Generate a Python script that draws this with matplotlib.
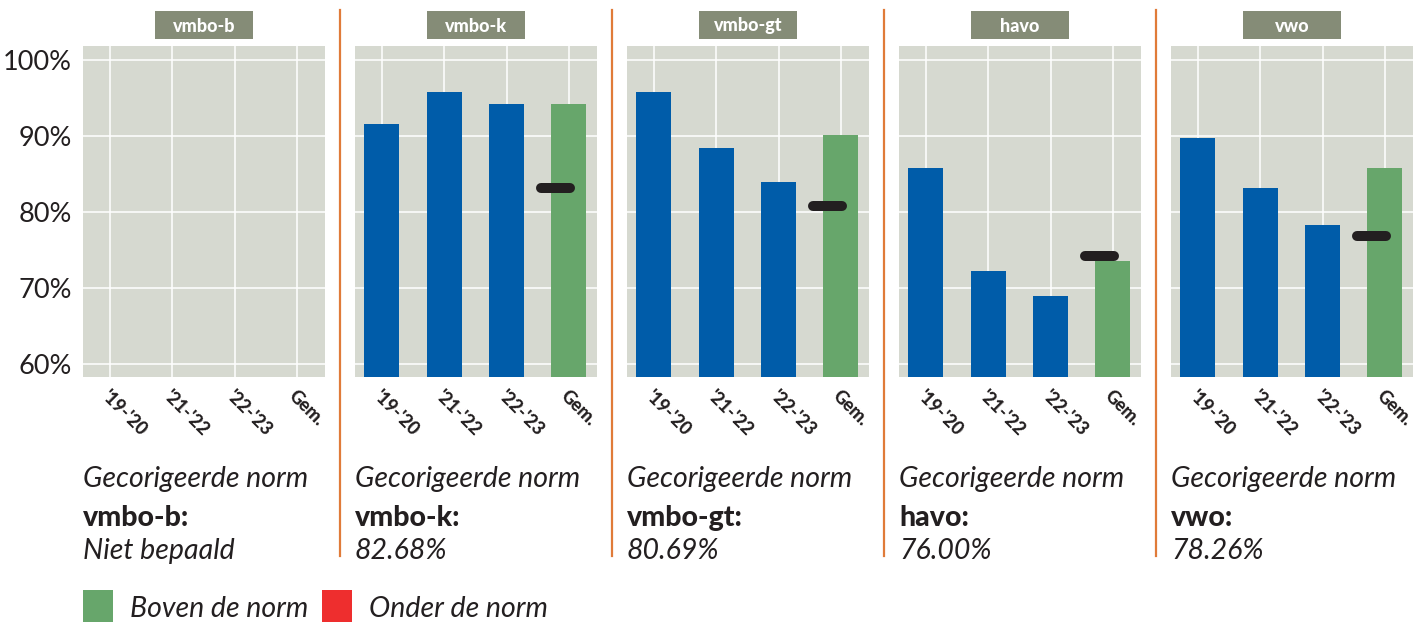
import matplotlib.pyplot as plt
from matplotlib.patches import Rectangle

plt.rcParams['font.family'] = ['Lato', 'DejaVu Sans']

# data
levels = ['vmbo-b', 'vmbo-k', 'vmbo-gt', 'havo', 'vwo']
years = ["'19-'20", "'21-'22", "'22-'23", 'Gem.']
vmbo_b = []
vmbo_k = [91.5, 95.8, 94.2, 94.2]
vmbo_gt = [95.8, 88.4, 83.9, 90.1]
havo = [85.75, 72.2, 68.9, 73.5]
vwo = [89.7, 83.1, 78.3, 85.75]
values = [vmbo_b, vmbo_k, vmbo_gt, havo, vwo]
norm_marker = [None, 83.1, 80.8, 74.2, 76.8]
norm_text = ['Niet bepaald', '82.68%', '80.69%', '76.00%', '78.26%']
yticks = [60, 70, 80, 90, 100]

W, H = 1420, 622
BLUE = '#005ca9'
GREEN = '#67a66b'
RED = '#ee2e2e'
BG = '#d6d9d0'
DARK = '#231f20'
ORANGE = '#e07b39'
BOX = '#858c77'

fig = plt.figure(figsize=(W / 100, H / 100), dpi=100)


def fx(x):
    return x / W


def fy(y):
    return 1 - y / H


lefts = [83, 355, 627, 899, 1171]
pw, top, bottom = 242, 46, 377

for i, lvl in enumerate(levels):
    ax = fig.add_axes([fx(lefts[i]), fy(bottom), pw / W, (bottom - top) / H])
    ax.set_facecolor(BG)
    for s in ax.spines.values():
        s.set_visible(False)
    ax.set_xlim(-0.43, 3.45)
    ax.set_ylim(58.3, 101.8)
    ax.set_yticks(yticks)
    ax.set_xticks(range(len(years)))
    ax.grid(True, color='white', lw=1.1)
    ax.set_axisbelow(True)
    ax.tick_params(length=0)
    if i == 0:
        ax.set_yticklabels([f'{t}%' for t in yticks], fontsize=19.5, color=DARK)
        ax.tick_params(axis='y', pad=8)
    else:
        ax.set_yticklabels([])
    ax.set_xticklabels(years, rotation=-45, ha='left', va='top', rotation_mode='anchor',
                       fontsize=13, fontweight='black', color=DARK)
    ax.tick_params(axis='x', pad=7)

    vals = values[i]
    if vals:
        cols = [BLUE] * (len(vals) - 1) + [GREEN]
        ax.bar(range(len(vals)), [v - 58.3 for v in vals], bottom=58.3, width=0.56,
               color=cols, zorder=2)
    if norm_marker[i] is not None:
        ax.plot([2.56, 3.02], [norm_marker[i]] * 2, color=DARK, lw=7.2,
                solid_capstyle='round', zorder=3)

    # title box
    cx = lefts[i] + pw / 2
    fig.add_artist(Rectangle((fx(cx - 49), fy(39)), 98 / W, 28 / H,
                             transform=fig.transFigure, color=BOX, lw=0))
    fig.text(fx(cx), fy(26), lvl, color='white', fontsize=13, fontweight='black',
             ha='center', va='center')

    # norm text below
    fig.text(fx(lefts[i]), fy(487), 'Gecorigeerde norm', fontsize=20.5, style='italic',
             color=DARK, va='baseline')
    fig.text(fx(lefts[i]), fy(526), lvl + ':', fontsize=20.5, fontweight='black',
             color=DARK, va='baseline')
    fig.text(fx(lefts[i]), fy(559), norm_text[i], fontsize=20.5, style='italic',
             color=DARK, va='baseline')

# separators
for x in [340, 612, 884, 1156]:
    fig.add_artist(plt.Line2D([fx(x), fx(x)], [fy(10), fy(556)], color=ORANGE, lw=1.6,
                              transform=fig.transFigure))

# legend
fig.add_artist(Rectangle((fx(83), fy(625)), 30 / W, 35 / H, transform=fig.transFigure,
                         color=GREEN, lw=0))
fig.text(fx(130), fy(617), 'Boven de norm', fontsize=20.5, style='italic', color=DARK,
         va='baseline')
fig.add_artist(Rectangle((fx(322), fy(625)), 30 / W, 35 / H, transform=fig.transFigure,
                         color=RED, lw=0))
fig.text(fx(369), fy(617), 'Onder de norm', fontsize=20.5, style='italic', color=DARK,
         va='baseline')

fig.savefig('out.png', dpi=100)
